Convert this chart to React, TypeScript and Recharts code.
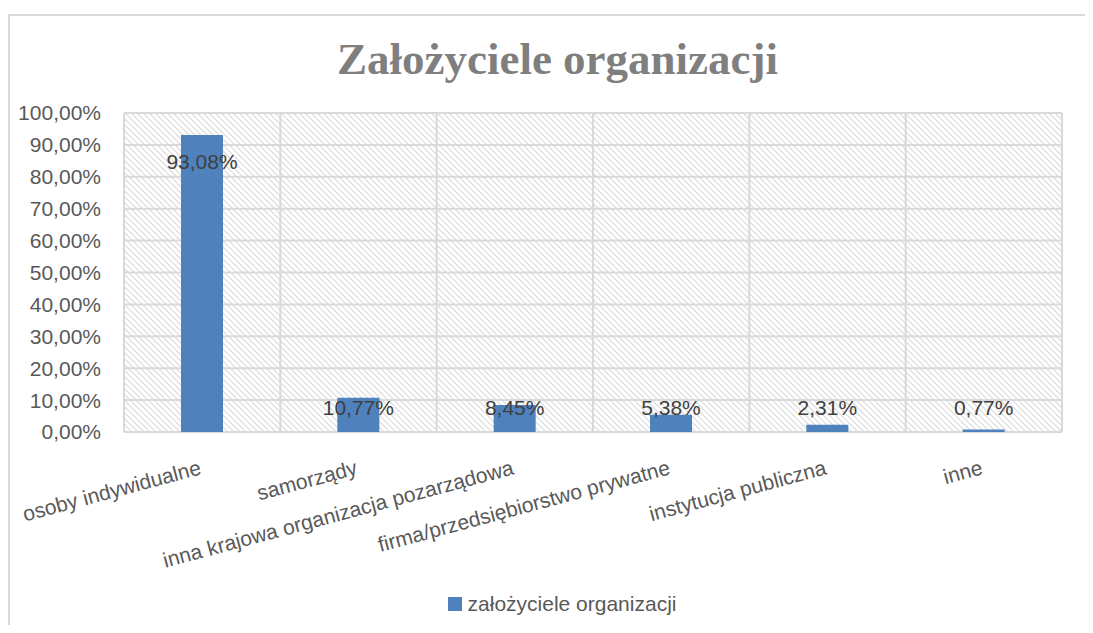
import React from 'react';
import { Bar, BarChart, CartesianGrid, LabelList, Legend, XAxis, YAxis } from 'recharts';

// values
const title = 'Założyciele organizacji';
const seriesName = 'założyciele organizacji';
const categories = [
    'osoby indywidualne',
    'samorządy',
    'inna krajowa organizacja pozarządowa',
    'firma/przedsiębiorstwo prywatne',
    'instytucja publiczna',
    'inne',
];
const shares = [0.9308, 0.1077, 0.0845, 0.0538, 0.0231, 0.0077];
const yTicks = [0, 0.1, 0.2, 0.3, 0.4, 0.5, 0.6, 0.7, 0.8, 0.9, 1];

const data = categories.map((name, i) => ({ name, value: shares[i] }));

const FONT = '"Liberation Sans", Arial, sans-serif';
const BAR = '#4f81bd';
const GRID = '#d9d9d9';

const pct = (v: number) => (v * 100).toFixed(2).replace('.', ',') + '%';

function CategoryTick({ x, y, payload }: any) {
    // Excel-style: rotated label whose right end sits under the category centre
    return (
        <g transform={`translate(${x},${y + 42})`}>
            <text
                x={0}
                y={0}
                textAnchor="end"
                transform="rotate(-15)"
                fontFamily={FONT}
                fontSize={21}
                fill="#595959"
            >
                {payload.value}
            </text>
        </g>
    );
}

function ValueLabel({ x, y, width, height, value }: any) {
    // inside end, but never lower than a fixed strip just above the axis
    const cy = Math.min(y + 27, y + height - 24);
    return (
        <text
            x={x + width / 2}
            y={cy}
            dy="0.35em"
            textAnchor="middle"
            fontFamily={FONT}
            fontSize={21}
            fill="#404040"
        >
            {pct(value)}
        </text>
    );
}

function LegendContent() {
    return (
        <div
            style={{
                height: 24,
                display: 'flex',
                alignItems: 'center',
                justifyContent: 'center',
                paddingLeft: 23,
                fontFamily: FONT,
                fontSize: 21,
                color: '#595959',
            }}
        >
            <span style={{ width: 14, height: 14, background: BAR, marginRight: 6, display: 'inline-block' }} />
            <span>{seriesName}</span>
        </div>
    );
}

export default function App() {
    return (
        <div
            style={{
                marginTop: 6,
                width: 1085,
                height: 611,
                boxSizing: 'border-box',
                borderTop: `2px solid ${GRID}`,
                borderLeft: `2px solid ${GRID}`,
                position: 'relative',
            }}
        >
            <div
                style={{
                    position: 'absolute',
                    left: 247.5,
                    width: 600,
                    top: 21,
                    textAlign: 'center',
                    fontFamily: '"Liberation Serif", "Times New Roman", serif',
                    fontWeight: 'bold',
                    fontSize: 45,
                    lineHeight: '44px',
                    color: '#7f7f7f',
                    zIndex: 1,
                }}
            >
                {title}
            </div>
            <div style={{ position: 'absolute', left: -2, top: -2 }}>
                <BarChart
                    width={1085}
                    height={611}
                    data={data}
                    margin={{ top: 99, right: 31, left: 0, bottom: 9 }}
                >
                    <defs>
                        <pattern id="hatch" width="6" height="6" patternUnits="userSpaceOnUse">
                            <rect width="6" height="6" fill="#ffffff" />
                            <path d="M0,0 L6,6 M-1,5 L1,7 M5,-1 L7,1" stroke="#dadada" strokeWidth={1.2} />
                        </pattern>
                    </defs>
                    <CartesianGrid
                        fill="url(#hatch)"
                        stroke={GRID}
                        strokeWidth={2}
                        verticalCoordinatesGenerator={({ offset }: any) =>
                            categories
                                .concat([''])
                                .map((_, i) => offset.left + (i * offset.width) / categories.length)
                        }
                    />
                    <XAxis
                        dataKey="name"
                        interval={0}
                        height={160}
                        axisLine={false}
                        tickLine={false}
                        tickSize={0}
                        tickMargin={0}
                        tick={<CategoryTick />}
                    />
                    <YAxis
                        width={116}
                        domain={[0, 1]}
                        ticks={yTicks}
                        axisLine={false}
                        tickLine={false}
                        tickSize={0}
                        tickMargin={23}
                        tickFormatter={pct}
                        tick={{ fontFamily: FONT, fontSize: 21, fill: '#595959' }}
                    />
                    <Legend verticalAlign="bottom" content={<LegendContent />} wrapperStyle={{ left: 0, width: 1085 }} />
                    <Bar dataKey="value" name={seriesName} fill={BAR} barSize={42} isAnimationActive={false}>
                        <LabelList dataKey="value" content={<ValueLabel />} />
                    </Bar>
                </BarChart>
            </div>
        </div>
    );
}
